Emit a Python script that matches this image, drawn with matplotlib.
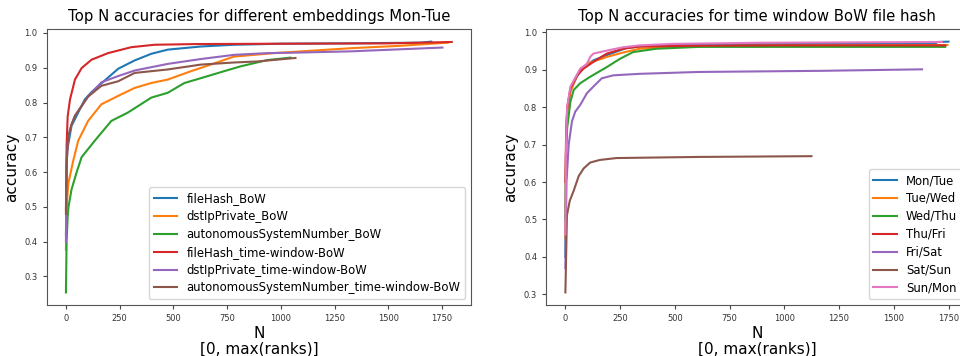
import matplotlib.pyplot as plt

# left panel: different embeddings Mon-Tue
left_labels = ['fileHash_BoW', 'dstIpPrivate_BoW', 'autonomousSystemNumber_BoW',
               'fileHash_time-window-BoW', 'dstIpPrivate_time-window-BoW',
               'autonomousSystemNumber_time-window-BoW']

fh_bow_x = [0, 5, 26, 57, 88, 119, 165, 243, 320, 397, 474, 628, 782, 1000, 1300, 1650, 1700]
fh_bow_y = [0.42, 0.66, 0.733, 0.771, 0.809, 0.830, 0.855, 0.897, 0.921, 0.940, 0.952, 0.961, 0.966, 0.969, 0.970, 0.972, 0.975]
ip_bow_x = [0, 3, 11, 34, 57, 103, 165, 243, 320, 397, 474, 582, 674, 782, 968, 1323, 1554, 1777]
ip_bow_y = [0.377, 0.50, 0.567, 0.633, 0.690, 0.747, 0.795, 0.819, 0.842, 0.856, 0.866, 0.890, 0.909, 0.932, 0.942, 0.956, 0.963, 0.972]
as_bow_x = [0, 3, 8, 12, 26, 50, 73, 134, 211, 288, 397, 474, 551, 628, 736, 813, 937, 1045]
as_bow_y = [0.254, 0.40, 0.47, 0.50, 0.55, 0.60, 0.643, 0.690, 0.747, 0.771, 0.814, 0.828, 0.856, 0.870, 0.890, 0.904, 0.922, 0.929]
fh_tw_x = [0, 3, 8, 19, 42, 73, 119, 196, 304, 412, 600, 1000, 1500, 1795]
fh_tw_y = [0.49, 0.676, 0.76, 0.809, 0.866, 0.899, 0.923, 0.942, 0.959, 0.966, 0.968, 0.969, 0.970, 0.974]
ip_tw_x = [0, 3, 10, 25, 42, 73, 103, 165, 243, 320, 474, 628, 782, 937, 1045, 1323, 1752]
ip_tw_y = [0.40, 0.62, 0.70, 0.735, 0.762, 0.790, 0.817, 0.858, 0.876, 0.892, 0.911, 0.925, 0.937, 0.942, 0.943, 0.947, 0.958]
as_tw_x = [0, 3, 10, 25, 42, 73, 103, 165, 243, 320, 474, 628, 782, 891, 1068]
as_tw_y = [0.48, 0.62, 0.70, 0.735, 0.762, 0.790, 0.817, 0.848, 0.861, 0.885, 0.895, 0.909, 0.915, 0.918, 0.928]

left_x = [fh_bow_x, ip_bow_x, as_bow_x, fh_tw_x, ip_tw_x, as_tw_x]
left_y = [fh_bow_y, ip_bow_y, as_bow_y, fh_tw_y, ip_tw_y, as_tw_y]

# right panel: time window BoW file hash per day pair
right_labels = ['Mon/Tue', 'Tue/Wed', 'Wed/Thu', 'Thu/Fri', 'Fri/Sat', 'Sat/Sun', 'Sun/Mon']

mon_x = [0, 3, 8, 23, 53, 83, 128, 189, 279, 339, 500, 800, 1200, 1690, 1700, 1750]
mon_y = [0.40, 0.70, 0.79, 0.845, 0.882, 0.907, 0.925, 0.939, 0.958, 0.962, 0.966, 0.968, 0.969, 0.970, 0.974, 0.975]
tue_x = [0, 3, 8, 23, 53, 98, 189, 264, 339, 490, 800, 1200, 1745]
tue_y = [0.45, 0.70, 0.788, 0.841, 0.885, 0.916, 0.934, 0.946, 0.956, 0.962, 0.964, 0.965, 0.966]
wed_x = [0, 3, 8, 23, 38, 68, 113, 189, 249, 309, 415, 611, 1000, 1735]
wed_y = [0.50, 0.68, 0.744, 0.815, 0.846, 0.864, 0.881, 0.907, 0.929, 0.947, 0.956, 0.961, 0.961, 0.961]
thu_x = [0, 3, 8, 23, 53, 83, 128, 189, 264, 339, 600, 1000, 1735]
thu_y = [0.60, 0.72, 0.797, 0.850, 0.885, 0.903, 0.921, 0.943, 0.956, 0.962, 0.964, 0.965, 0.965]
fri_x = [0, 5, 15, 30, 45, 68, 98, 128, 166, 219, 339, 611, 1169, 1629]
fri_y = [0.37, 0.60, 0.700, 0.762, 0.788, 0.806, 0.837, 0.855, 0.877, 0.885, 0.889, 0.894, 0.897, 0.901]
sat_x = [0, 7, 20, 38, 61, 83, 113, 158, 234, 611, 1124]
sat_y = [0.305, 0.511, 0.550, 0.577, 0.616, 0.636, 0.652, 0.659, 0.664, 0.667, 0.669]
sun_x = [0, 3, 8, 23, 68, 98, 113, 128, 189, 264, 339, 490, 900, 1720]
sun_y = [0.46, 0.70, 0.80, 0.855, 0.903, 0.915, 0.934, 0.943, 0.951, 0.960, 0.965, 0.969, 0.972, 0.974]

right_x = [mon_x, tue_x, wed_x, thu_x, fri_x, sat_x, sun_x]
right_y = [mon_y, tue_y, wed_y, thu_y, fri_y, sat_y, sun_y]

fig = plt.figure(figsize=(9.6, 3.56), dpi=100)
ax1 = fig.add_axes([0.0486, 0.1433, 0.442, 0.775])
ax2 = fig.add_axes([0.569, 0.1433, 0.439, 0.775])

for xs, ys, lab in zip(left_x, left_y, left_labels):
    ax1.plot(xs, ys, lw=1.5, label=lab)
for xs, ys, lab in zip(right_x, right_y, right_labels):
    ax2.plot(xs, ys, lw=1.5, label=lab)

ax1.set_title('Top N accuracies for different embeddings Mon-Tue', fontsize=10.7)
ax2.set_title('Top N accuracies for time window BoW file hash', fontsize=10.7)

for ax in (ax1, ax2):
    ax.set_xlabel('N\n[0, max(ranks)]', fontsize=11, labelpad=2, linespacing=1.1)
    ax.set_ylabel('accuracy', fontsize=11, labelpad=4)
    ax.set_xticks([0, 250, 500, 750, 1000, 1250, 1500, 1750])
    ax.set_yticks([0.3, 0.4, 0.5, 0.6, 0.7, 0.8, 0.9, 1.0])
    ax.tick_params(labelsize=6, length=3, colors='#444444', labelcolor='#333333')
    for s in ax.spines.values():
        s.set_color('#555555')
    ax.legend(loc='lower right', fontsize=8.4, labelspacing=0.42, borderpad=0.4)

fig.savefig('out.png', dpi=100)
